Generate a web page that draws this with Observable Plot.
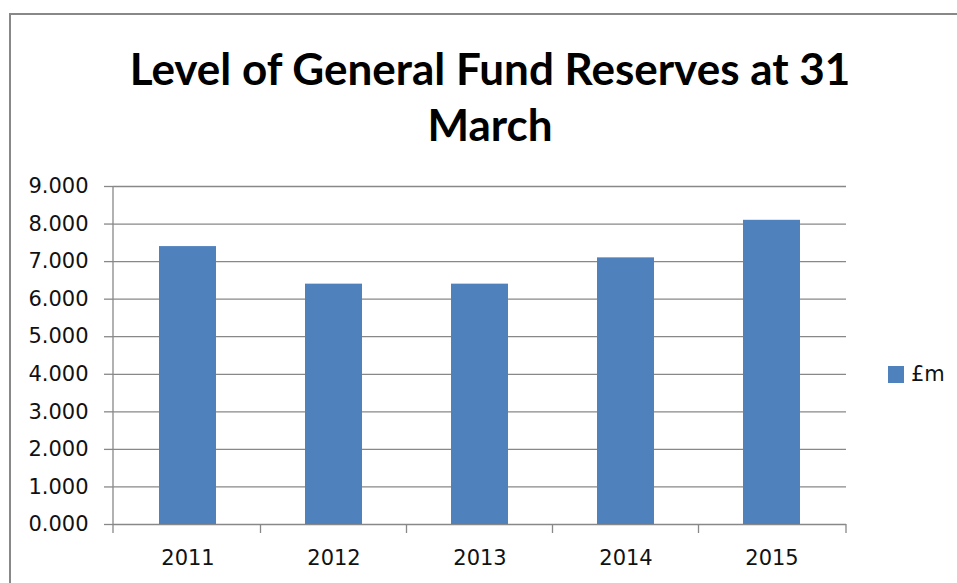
<!DOCTYPE html>
<html>
<head>
<meta charset="utf-8">
<script src="https://cdn.jsdelivr.net/npm/d3@7"></script>
<script src="https://cdn.jsdelivr.net/npm/@observablehq/plot@0.6"></script>
<style>
  html, body { margin: 0; padding: 0; background: #fff; overflow: hidden; }
  #wrap { position: relative; width: 957px; height: 583px; overflow: hidden; }
  #border { position: absolute; left: 9px; top: 13px; width: 1000px; height: 700px; border: 2.5px solid #888; box-sizing: border-box; }
  #title { position: absolute; left: 0; top: 40px; width: 980px; text-align: center; font-family: Lato, "Open Sans", sans-serif; font-weight: bold; font-size: 44px; line-height: 56px; color: #000; }
  #chart { position: absolute; left: 0; top: 0; }
  #legend { position: absolute; left: 888px; top: 362px; font-family: "DejaVu Sans", sans-serif; font-size: 21px; color: #111; display: flex; align-items: center; }
  #legend .sw { width: 16px; height: 17px; background: #4F81BD; margin-right: 7px; }
</style>
</head>
<body>
<div id="wrap">
  <div id="border"></div>
  <div id="chart"></div>
  <div id="title"></div>
  <div id="legend"></div>
</div>
<script>
const titleLines = ["Level of General Fund Reserves at 31", "March"];
const years = ["2011", "2012", "2013", "2014", "2015"];
const reserves = [7.4, 6.4, 6.4, 7.1, 8.1];
const yTicks = [0, 1, 2, 3, 4, 5, 6, 7, 8, 9];
const seriesName = "£m";
const barColor = "#4F81BD";

const data = years.map((y, i) => ({year: y, value: reserves[i]}));

document.getElementById("title").innerHTML = titleLines.join("<br>");
document.getElementById("legend").innerHTML = `<div class="sw"></div><span>${seriesName}</span>`;

function frameMark(index, scales, values, dimensions) {
  const {width, height, marginLeft, marginRight, marginTop, marginBottom} = dimensions;
  const x = scales.x;
  const bw = x.bandwidth ? x.bandwidth() : 0;
  const centers = years.map(y => x(y) + bw / 2);
  const bounds = [marginLeft];
  for (let i = 1; i < centers.length; i++) bounds.push((centers[i - 1] + centers[i]) / 2);
  bounds.push(width - marginRight);
  const g = d3.create("svg:g").attr("stroke", "#888").attr("stroke-width", 1.3).attr("fill", "none");
  g.append("line").attr("x1", marginLeft).attr("x2", marginLeft).attr("y1", marginTop).attr("y2", height - marginBottom);
  for (const b of bounds) {
    g.append("line").attr("x1", b).attr("x2", b).attr("y1", height - marginBottom).attr("y2", height - marginBottom + 9);
  }
  return g.node();
}

const chart = Plot.plot({
  width: 957,
  height: 583,
  marginLeft: 113,
  marginRight: 111,
  marginTop: 186,
  marginBottom: 59,
  style: {fontFamily: "DejaVu Sans", fontSize: "21px", color: "#111", background: "transparent", overflow: "visible"},
  x: {domain: years, paddingInner: 0.61, paddingOuter: 0.305},
  y: {domain: [0, 9]},
  marks: [
    Plot.gridY(yTicks, {stroke: "#888", strokeOpacity: 1, strokeWidth: 1.3}),
    Plot.barY(data, {x: "year", y: "value", fill: barColor}),
    Plot.axisY(yTicks, {tickFormat: d3.format(".3f"), tickSize: 9, tickPadding: 16, stroke: "#888", strokeWidth: 1.3, fill: "#111", fontSize: 21, label: null}),
    Plot.axisX({tickSize: 0, tickPadding: 26, fontSize: 21, fill: "#111", label: null}),
    frameMark
  ]
});
document.getElementById("chart").appendChild(chart);
</script>
</body>
</html>
